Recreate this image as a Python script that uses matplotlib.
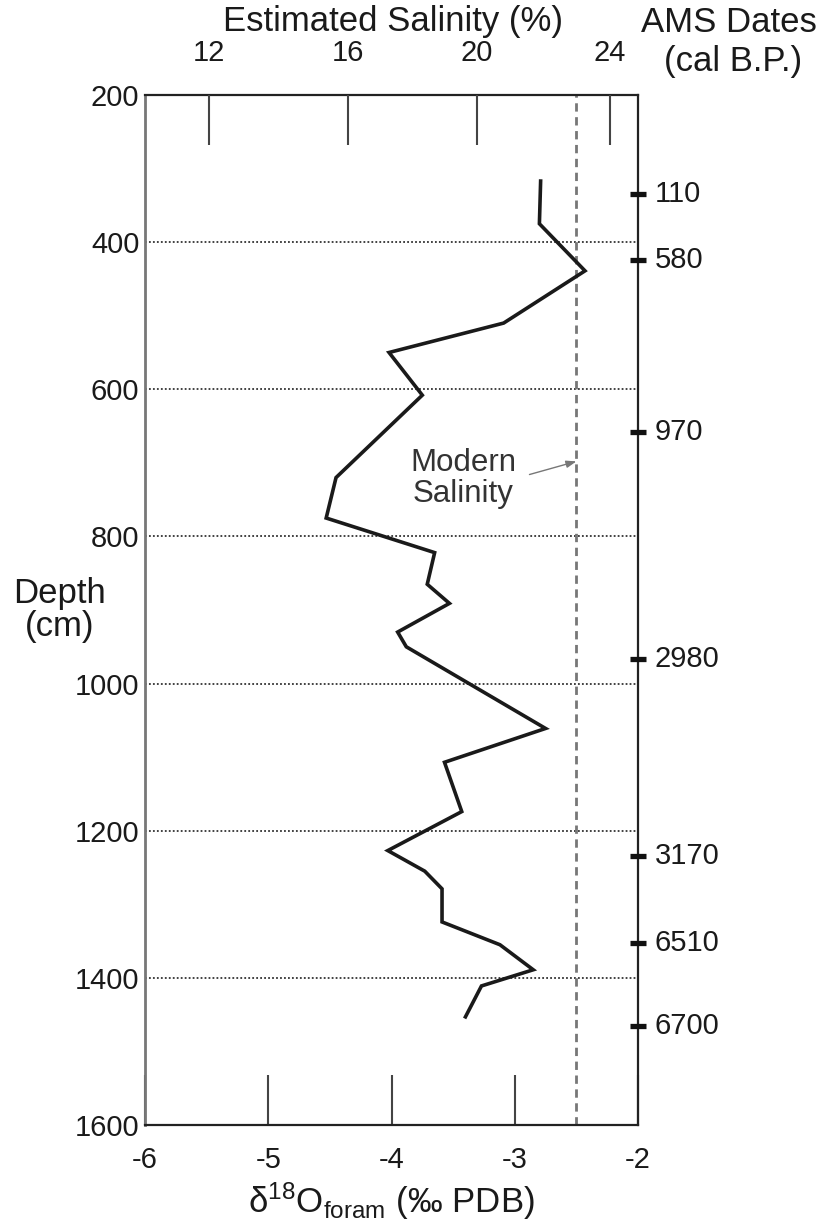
import matplotlib.pyplot as plt

plt.rcParams["font.family"] = ["Liberation Sans", "DejaVu Sans"]
plt.rcParams["mathtext.fontset"] = "custom"
plt.rcParams["mathtext.rm"] = "Liberation Sans"
plt.rcParams["mathtext.default"] = "regular"
plt.rcParams["axes.unicode_minus"] = False

# foraminiferal d18O profile down the core
depth = [317, 375, 439, 510, 550, 608, 720, 775, 822, 865, 891, 930, 950,
         1061, 1107, 1174, 1227, 1255, 1279, 1324, 1355, 1389, 1411, 1453]
d18o = [-2.79, -2.80, -2.43, -3.09, -4.02, -3.75, -4.45, -4.53, -3.65, -3.71,
        -3.53, -3.95, -3.88, -2.75, -3.57, -3.43, -4.03, -3.73, -3.59, -3.59,
        -3.12, -2.85, -3.27, -3.40]

# radiocarbon control points
ams_depth = [335, 424, 658, 967, 1235, 1352, 1465]
ams_age = [110, 580, 970, 2980, 3170, 6510, 6700]

# salinity scale on top, placed at equivalent d18O values
salinity_ticks = [12, 16, 20, 24]
salinity_pos = [-5.48, -4.35, -3.31, -2.23]
modern_d18o = -2.5

depth_ticks = [200, 400, 600, 800, 1000, 1200, 1400, 1600]
d18o_ticks = [-6, -5, -4, -3, -2]

FS = 21
TITLE_FS = 25
INK = "#1a1a1a"
W, H = 825, 1228
fig = plt.figure(figsize=(W / 100, H / 100), dpi=100)
ax = fig.add_axes([145 / W, 103 / H, 493 / W, 1030 / H])

ax.set_xlim(-6, -2)
ax.set_ylim(1600, 200)

# dotted depth grid
for d in depth_ticks[1:-1]:
    ax.axhline(d, color="#333333", lw=1.3, ls=(0, (1, 1.2)), zorder=1)

ax.axvline(modern_d18o, color="#777777", lw=2, ls=(0, (3, 2)), zorder=2)
ax.plot(d18o, depth, color=INK, lw=2.6, solid_joinstyle="miter", zorder=3)

ax.set_yticks(depth_ticks)
ax.set_xticks(d18o_ticks)
ax.tick_params(axis="y", length=0, pad=4, labelsize=FS, labelcolor=INK)
ax.tick_params(axis="x", direction="in", length=36, width=1.5, color="#444444",
               pad=15, labelsize=FS, labelcolor=INK)

for spine in ax.spines.values():
    spine.set_linewidth(1.6)
    spine.set_color("#222222")
ax.spines["left"].set_color("#777777")
ax.spines["left"].set_linewidth(2)

ax.set_xlabel(r"δ$^{18}$O$_{foram}$ (‰ PDB)", fontsize=TITLE_FS, labelpad=5,
              color=INK)

# salinity axis
top = ax.twiny()
top.set_xlim(ax.get_xlim())
top.set_xticks(salinity_pos)
top.set_xticklabels([str(s) for s in salinity_ticks])
top.tick_params(axis="x", direction="in", length=36, width=1.5, color="#444444",
                pad=20, labelsize=FS, labelcolor=INK)
for spine in top.spines.values():
    spine.set_visible(False)

# AMS date markers on the right axis
ax.plot([-2] * len(ams_depth), ams_depth, ls="none", marker="_", ms=11.5,
        mew=3.8, color="#111111", clip_on=False, zorder=5)
for d, age in zip(ams_depth, ams_age):
    ax.annotate(str(age), xy=(-2, d), xytext=(12, 0), textcoords="offset points",
                ha="left", va="center", fontsize=FS, color=INK,
                annotation_clip=False)

ax.annotate("Modern\nSalinity", xy=(modern_d18o, 698), xytext=(-3.42, 721),
            ha="center", va="center", fontsize=22.5, color="#333333",
            linespacing=1.05,
            arrowprops=dict(arrowstyle="-|>,head_length=0.5,head_width=0.18",
                            color="#777777", lw=1.0, relpos=(1, 0.5),
                            shrinkA=8, shrinkB=0, mutation_scale=12))

fig.text(393 / W, 1 - 22 / H, "Estimated Salinity (%)", ha="center",
         va="center", fontsize=TITLE_FS, color=INK)
fig.text(729 / W, 1 - 22 / H, "AMS Dates", ha="center", va="center",
         fontsize=TITLE_FS, color=INK)
fig.text(733 / W, 1 - 62 / H, "(cal B.P.)", ha="center", va="center",
         fontsize=TITLE_FS, color=INK)
fig.text(60 / W, 1 - 610 / H, "Depth\n(cm)", ha="center", va="center",
         fontsize=TITLE_FS, color=INK, linespacing=1.0)

fig.savefig("out.png", dpi=100, facecolor="white")
